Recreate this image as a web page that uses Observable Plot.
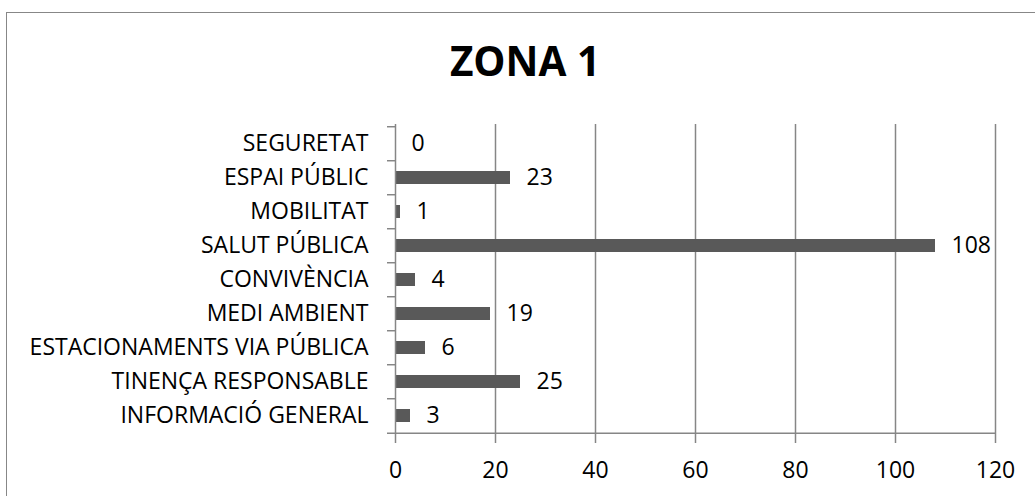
<!DOCTYPE html>
<html>
<head>
<meta charset="utf-8">
<script src="https://cdn.jsdelivr.net/npm/d3@7"></script>
<script src="https://cdn.jsdelivr.net/npm/@observablehq/plot@0.6"></script>
<style>
  html, body { margin: 0; padding: 0; background: #fff; overflow: hidden; }
  #wrap { position: relative; width: 1035px; height: 496px; overflow: hidden; }
  #border { position: absolute; left: 6px; top: 12px; width: 1100px; height: 600px; border: 1.5px solid #878787; box-sizing: border-box; }
  #title { position: absolute; left: 0; width: 1050px; top: 41px; text-align: center; font-family: "Open Sans", sans-serif; font-weight: 700; font-size: 40.5px; line-height: 1; color: #000; margin: 0; }
  #chart { position: absolute; left: 0; top: 0; }
</style>
</head>
<body>
<div id="wrap">
  <div id="border"></div>
  <div id="title">ZONA 1</div>
  <div id="chart"></div>
</div>
<script>
const categories = [
  "SEGURETAT",
  "ESPAI PÚBLIC",
  "MOBILITAT",
  "SALUT PÚBLICA",
  "CONVIVÈNCIA",
  "MEDI AMBIENT",
  "ESTACIONAMENTS VIA PÚBLICA",
  "TINENÇA RESPONSABLE",
  "INFORMACIÓ GENERAL"
];
const values = [0, 23, 1, 108, 4, 19, 6, 25, 3];
const xTicks = [0, 20, 40, 60, 80, 100, 120];

const data = categories.map((c, i) => ({cat: c, value: values[i]}));

const W = 1035, H = 496;
const mTop = 124, mBottom = 61, mLeft = 395, mRight = 40;
const step = (H - mTop - mBottom) / categories.length;
const gray = "#868686";

const chart = Plot.plot({
  width: W,
  height: H,
  marginTop: mTop,
  marginBottom: mBottom,
  marginLeft: mLeft,
  marginRight: mRight,
  style: {fontFamily: "'Open Sans', sans-serif", fontSize: "23px", color: "#000", background: "transparent", overflow: "visible"},
  x: {domain: [0, 120], ticks: xTicks},
  y: {domain: categories, paddingInner: 0.61, paddingOuter: 0.305},
  marks: [
    Plot.gridX(xTicks.filter(d => d > 0), {stroke: gray, strokeOpacity: 1, strokeWidth: 1.5}),
    Plot.barX(data, {x: "value", y: "cat", fill: "#595959"}),
    Plot.text(data, {x: "value", y: "cat", text: d => String(d.value), dx: 16, textAnchor: "start", fill: "#000", fontSize: 23}),
    Plot.ruleX([0], {stroke: gray, strokeWidth: 1.5}),
    Plot.ruleY(categories, {y: d => d, dy: -step / 2, x1: 0, x2: 0, insetLeft: -8, stroke: gray, strokeWidth: 1.5}),
    Plot.ruleY([categories[categories.length - 1]], {y: d => d, dy: step / 2, insetLeft: -8, stroke: gray, strokeWidth: 1.5}),
    Plot.axisX(xTicks, {tickSize: 8, tickPadding: 18, stroke: gray, strokeWidth: 1.5, fill: "#000", fontSize: 23, label: null}),
    Plot.axisY({tickSize: 0, tickPadding: 27, fill: "#000", fontSize: 23, label: null})
  ]
});
document.getElementById("chart").appendChild(chart);
</script>
</body>
</html>
